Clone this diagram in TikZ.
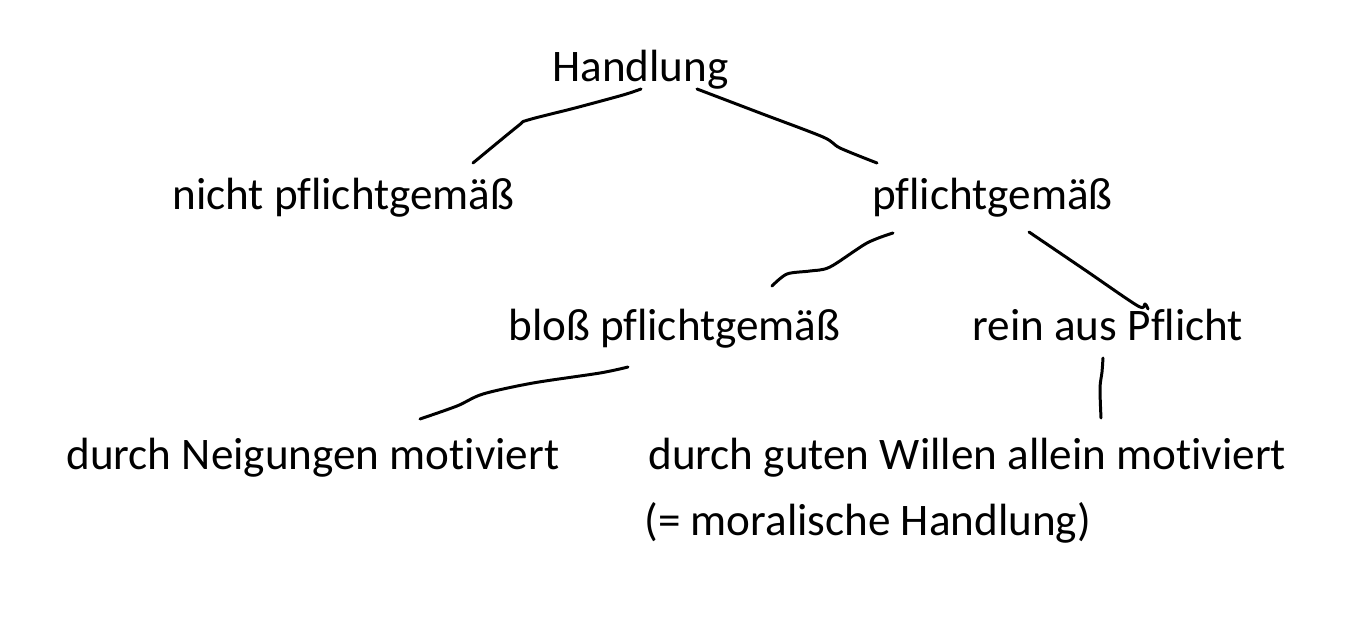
\documentclass[tikz,border=0pt]{standalone}
\usepackage{fontspec}
\setmainfont{Carlito}[Ligatures={NoCommon,NoContextual}]
\usepackage{tikz}
\usetikzlibrary{positioning}

\begin{document}
\begin{tikzpicture}[x=0.02cm,y=-0.02cm,
  every node/.style={anchor=base west,inner sep=0pt,font=\fontsize{25.7}{30}\selectfont},
  stroke/.style={line width=1.7pt,line cap=round,line join=round}]
  \useasboundingbox (0,0) rectangle (1363,635);
  \node (hand)  at (552,82)  {Handlung};
  \node (nicht) at (172,210) {nicht pflichtgemäß};
  \node (pfl)   at (872,210) {pflichtgemäß};
  \node (bloss) at (508,340) {bloß pflichtgemäß};
  \node (rein)  at (972,340) {rein aus Pflicht};
  \node (neig)  at (66,469)  {durch Neigungen motiviert};
  \node (wille) at (648,469) {durch guten Willen allein motiviert};
  \node (moral) at (644,535) {(= moralische Handlung)};
  % hand drawn strokes
  \draw[stroke] plot[smooth,tension=0.5] coordinates {([shift={(89,7)}]hand.base west) (623,95) (575,108) (528,120) (518,126) ([shift={(301,-47)}]nicht.base west)};
  \draw[stroke] plot[smooth,tension=0.5] coordinates {([shift={(145,7)}]hand.base west) (760,113) (823,137) (840,148) ([shift={(5,-47)}]pfl.base west)};
  \draw[stroke] plot[smooth,tension=0.5] coordinates {([shift={(21,23)}]pfl.base west) (867,243) (830,267) (810,271) (787,274) ([shift={(264,-54)}]bloss.base west)};
  \draw[stroke] plot[smooth,tension=0.5] coordinates {([shift={(157,22)}]pfl.base west) (1085,270) (1138,306) (1145,304) ([shift={(176,-31)}]rein.base west)};
  \draw[stroke] plot[smooth,tension=0.5] coordinates {([shift={(120,27)}]bloss.base west) (600,373) (533,383) (483,394) (457,406) ([shift={(354,-50)}]neig.base west)};
  \draw[stroke] plot[smooth,tension=0.5] coordinates {([shift={(131,18)}]rein.base west) (1102,372) (1100,388) ([shift={(453,-51)}]wille.base west)};
\end{tikzpicture}
\end{document}
